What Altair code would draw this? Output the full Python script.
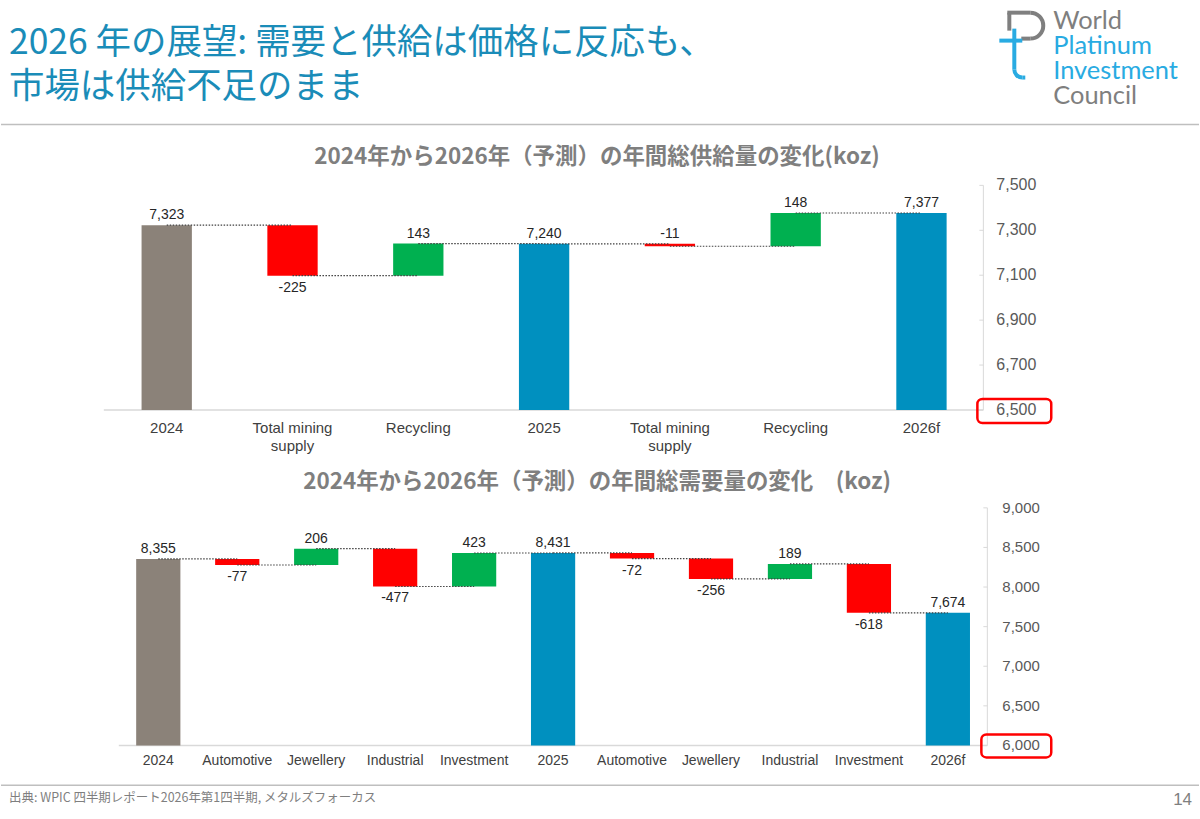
import altair as alt
import pandas as pd

# ---------------- data ----------------
sup_labels = ["2024", "Total mining\nsupply", "Recycling", "2025",
              "Total mining\nsupply", "Recycling", "2026f"]
sup_values = [7323, -225, 143, 7240, -11, 148, 7377]
sup_kinds = ["base", "delta", "delta", "total", "delta", "delta", "total"]
sup_ticks = [6500, 6700, 6900, 7100, 7300, 7500]

dem_labels = ["2024", "Automotive", "Jewellery", "Industrial", "Investment", "2025",
              "Automotive", "Jewellery", "Industrial", "Investment", "2026f"]
dem_values = [8355, -77, 206, -477, 423, 8431, -72, -256, 189, -618, 7674]
dem_kinds = ["base", "delta", "delta", "delta", "delta", "total",
             "delta", "delta", "delta", "delta", "total"]
dem_ticks = [6000, 6500, 7000, 7500, 8000, 8500, 9000]

title_lines = ["2026 年の展望: 需要と供給は価格に反応も、", "市場は供給不足のまま"]
sup_title = "2024年から2026年（予測）の年間総供給量の変化(koz)"
dem_title = "2024年から2026年（予測）の年間総需要量の変化　(koz)"
footer = "出典: WPIC 四半期レポート2026年第1四半期, メタルズフォーカス"
page_no = "14"
logo_words = ["World", "Platinum", "Investment", "Council"]

COLORS = {"base": "#8B8279", "total": "#0090BF", "up": "#00B050", "down": "#FF0000"}
LAT = "Liberation Sans"
JP = "Noto Sans CJK JP"
ONE = [{"a": 1}]
TOP_H, BOT_H = 460, 359


def frames(prefix, labels, values, kinds, floor):
    rows = []
    run = 0
    for i, (lab, v, k) in enumerate(zip(labels, values, kinds)):
        if k in ("base", "total"):
            start, end, color, txt = floor, v, k, f"{v:,}"
        else:
            start, end = run, run + v
            color, txt = ("up" if v >= 0 else "down"), f"{v}"
        run = end
        below = k == "delta" and v < 0 and abs(v) > 20
        parts = lab.split("\n")
        rows.append(dict(key=f"{prefix}{i}", l1=parts[0], l2=parts[1] if len(parts) > 1 else "",
                         start=start, end=end, color=color, txt=txt,
                         ly=min(start, end) if below else max(start, end),
                         side="below" if below else "above", level=end))
    df = pd.DataFrame(rows)
    crow = []
    for i in range(len(df) - 1):
        crow.append(dict(pair=i, key=df.key[i], level=df.level[i]))
        crow.append(dict(pair=i, key=df.key[i + 1], level=df.level[i]))
    return df, pd.DataFrame(crow)


def text_at(x, y, txt, **kw):
    return alt.Chart(alt.Data(values=ONE)).mark_text(**kw).encode(
        x=alt.value(x), y=alt.value(y), text=alt.value(txt))


def rule_at(x1, x2, y1, y2, **kw):
    return alt.Chart(alt.Data(values=ONE)).mark_rule(**kw).encode(
        x=alt.value(x1), x2=alt.value(x2), y=alt.value(y1), y2=alt.value(y2))


def waterfall(df, conn, ticks, xrange, yrange, ydom, pad, lab_y, xlab_size,
              axis_x, tick_x, tick_size, title, title_y, box):
    xs = alt.Scale(domain=list(df.key), range=xrange, paddingInner=pad, paddingOuter=pad / 2)
    ys = alt.Scale(domain=ydom, range=yrange, zero=False, nice=False)
    X = alt.X("key:N", scale=xs, axis=None)
    base = alt.Chart(df)
    bars = base.mark_bar().encode(
        x=X, y=alt.Y("start:Q", scale=ys, axis=None), y2="end:Q",
        color=alt.Color("color:N", scale=alt.Scale(domain=list(COLORS), range=list(COLORS.values())),
                        legend=None))
    connectors = alt.Chart(conn).mark_line(strokeDash=[1.5, 1.5], color="#404040", strokeWidth=1.2).encode(
        x=X, y=alt.Y("level:Q", scale=ys, axis=None), detail="pair:N")
    above = base.transform_filter("datum.side == 'above'").mark_text(
        baseline="bottom", dy=-3, fontSize=14, font=LAT, color="#262626").encode(
        x=X, y=alt.Y("ly:Q", scale=ys, axis=None), text="txt:N")
    below = base.transform_filter("datum.side == 'below'").mark_text(
        baseline="top", dy=5, fontSize=14, font=LAT, color="#262626").encode(
        x=X, y=alt.Y("ly:Q", scale=ys, axis=None), text="txt:N")
    xl1 = base.mark_text(baseline="middle", fontSize=xlab_size, font=LAT, color="#404040").encode(
        x=X, y=alt.value(lab_y), text="l1:N")
    xl2 = base.mark_text(baseline="middle", fontSize=xlab_size, font=LAT, color="#404040").encode(
        x=X, y=alt.value(lab_y + 18), text="l2:N")
    tdf = pd.DataFrame({"t": ticks})
    ylab = alt.Chart(tdf).mark_text(align="left", baseline="middle", fontSize=tick_size, font=LAT,
                                    color="#595959").encode(
        x=alt.value(tick_x), y=alt.Y("t:Q", scale=ys, axis=None), text=alt.Text("t:Q", format=","))
    yticks = alt.Chart(tdf).mark_rule(color="#D9D9D9").encode(
        x=alt.value(axis_x - 4), x2=alt.value(axis_x), y=alt.Y("t:Q", scale=ys, axis=None))
    edf = pd.DataFrame({"lo": [ydom[0]], "hi": [ydom[1]]})
    axisline = alt.Chart(edf).mark_rule(color="#D9D9D9").encode(
        x=alt.value(axis_x), y=alt.Y("lo:Q", scale=ys, axis=None), y2="hi:Q")
    baseline = alt.Chart(edf).mark_rule(color="#D9D9D9", strokeWidth=1.5).encode(
        x=alt.value(xrange[0]), x2=alt.value(axis_x), y=alt.Y("lo:Q", scale=ys, axis=None))
    ttl = text_at(597, title_y, title, fontSize=22.5, font=JP, fontWeight="bold", color="#7F7F7F",
                  baseline="middle", align="center")
    x1, x2, y1, y2 = box
    hl = alt.Chart(alt.Data(values=ONE)).mark_rect(fill="white", fillOpacity=0, stroke="#FF0000",
                                                   strokeWidth=2.5, cornerRadius=5).encode(
        x=alt.value(x1), x2=alt.value(x2), y=alt.value(y1), y2=alt.value(y2))
    return [baseline, axisline, yticks, bars, connectors, above, below, xl1, xl2, ylab, ttl, hl]


sdf, sconn = frames("s", sup_labels, sup_values, sup_kinds, sup_ticks[0])
ddf, dconn = frames("d", dem_labels, dem_values, dem_kinds, dem_ticks[0])

top_layers = waterfall(sdf, sconn, sup_ticks, [103, 985], [410, 185], [sup_ticks[0], sup_ticks[-1]],
                       0.6, 428, 15, 984, 997, 16, sup_title, 157, (978, 1052, 399, 423))
off = TOP_H
bot_layers = waterfall(ddf, dconn, dem_ticks, [118, 988], [746 - off, 508 - off],
                       [dem_ticks[0], dem_ticks[-1]], 0.44, 762 - off, 14, 988, 1003, 15,
                       dem_title, 482 - off, (982, 1052, 735 - off, 758 - off))

# ---------------- slide decorations ----------------
head = []
for t, y in zip(title_lines, [42, 86]):
    head.append(text_at(8, y, t, align="left", baseline="middle", fontSize=35.5, font=JP, color="#1A8CB8"))
head.append(rule_at(0, 1200, 124, 124, color="#BFBFBF", strokeWidth=1.5))
GR, BL = "#7F7F7F", "#29ABE2"
for w, y, c in zip(logo_words, [20, 45, 70, 95], [GR, BL, BL, GR]):
    head.append(text_at(1054, y, w, align="left", baseline="middle", fontSize=25.5, font="Lato", color=c))
segs = [(1008, 1031, 12, 12, GR), (1010, 1010, 12, 30, GR), (1022, 1031, 38, 38, GR),
        (1015, 1015, 28, 69, BL), (1000, 1023, 40, 40, BL), (1023, 1026, 77, 77, BL)]
for (x1, x2, y1, y2, c) in segs:
    head.append(rule_at(x1, x2, y1, y2, color=c, strokeWidth=4))
head.append(alt.Chart(alt.Data(values=ONE)).mark_point(shape="M0,-1A1,1 0 0 1 0,1", size=676, filled=False,
                                                       stroke=GR, strokeWidth=4, opacity=1).encode(
    x=alt.value(1031), y=alt.value(25)))
head.append(alt.Chart(alt.Data(values=ONE)).mark_point(shape="M-1,0A1,1 0 0 0 0,1", size=256, filled=False,
                                                       stroke=BL, strokeWidth=4, opacity=1).encode(
    x=alt.value(1023), y=alt.value(69)))

foot = [
    rule_at(0, 1200, 786 - off, 786 - off, color="#BFBFBF", strokeWidth=1.5),
    text_at(8, 799 - off, footer, align="left", baseline="middle", fontSize=12.5, font=JP, color="#7F7F7F"),
    text_at(1193, 801 - off, page_no, align="right", baseline="middle", fontSize=17, font=LAT, color="#7F7F7F"),
]

top = alt.layer(*head, *top_layers).properties(width=1200, height=TOP_H)
bottom = alt.layer(*bot_layers, *foot).properties(width=1200, height=BOT_H)

chart = alt.vconcat(top, bottom, spacing=0).properties(
    padding=0, background="white"
).configure_view(stroke=None)

chart.save("out.html", embed_options={"renderer": "svg", "actions": False})
